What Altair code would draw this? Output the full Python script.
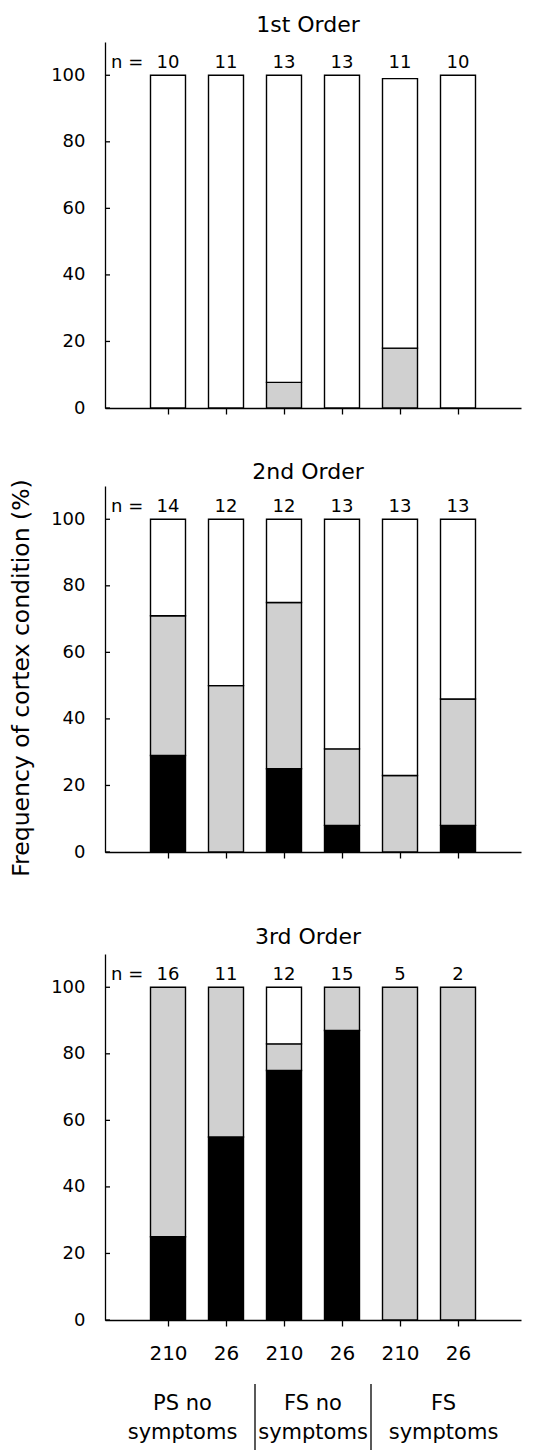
import altair as alt
import pandas as pd

# ---------------- data ----------------
ORDERS = ["1st Order", "2nd Order", "3rd Order"]
DOSES = ["210", "26", "210", "26", "210", "26"]
GROUPS = ["PS no\nsymptoms", "FS no\nsymptoms", "FS\nsymptoms"]
N_COUNTS = [
    [10, 11, 13, 13, 11, 10],
    [14, 12, 12, 13, 13, 13],
    [16, 11, 12, 15, 5, 2],
]
BLACK = [
    [0, 0, 0, 0, 0, 0],
    [29, 0, 25, 8, 0, 8],
    [25, 55, 75, 87, 0, 0],
]
GRAY = [
    [0, 0, 7.7, 0, 18, 0],
    [42, 50, 50, 23, 23, 38],
    [75, 45, 8, 13, 100, 100],
]
WHITE = [
    [100, 100, 92.3, 100, 81, 100],
    [29, 50, 25, 69, 77, 54],
    [0, 0, 17, 0, 0, 0],
]
Y_TICKS = [0, 20, 40, 60, 80, 100]
SEGMENTS = ["black", "gray", "white"]
FILLS = ["#000000", "#d0d0d0", "#ffffff"]
Y_TITLE = "Frequency of cortex condition (%)"

# ---------------- layout ----------------
W, H = 416, 366
FONT = "DejaVu Sans"
NB = len(DOSES)
XDOM = [0, NB + 1]
TITLE_OFFSETS = [-12, -22, -12]


def panel(i):
    rows = []
    for j in range(NB):
        base = 0
        for seg, vals in zip(SEGMENTS, (BLACK, GRAY, WHITE)):
            v = vals[i][j]
            if v > 0:
                rows.append({"pos": j + 1, "segment": seg, "y0": base, "y1": base + v})
                base += v
    seg_df = pd.DataFrame(rows)

    bottom = i == len(ORDERS) - 1
    if bottom:
        expr = "[" + ",".join("'%s'" % d for d in DOSES) + "][datum.value - 1]"
        x_axis = alt.Axis(values=list(range(1, NB + 1)), labels=True, labelExpr=expr,
                          labelFontSize=20, labelPadding=17, tickSize=6, grid=False,
                          title=None)
    else:
        x_axis = alt.Axis(values=list(range(1, NB + 1)), labels=False, tickSize=6,
                          grid=False, title=None)
    xenc = alt.X("pos:Q", scale=alt.Scale(domain=XDOM, nice=False, zero=False), axis=x_axis)
    yenc = alt.Y("y0:Q", scale=alt.Scale(domain=[0, 110], nice=False),
                 axis=alt.Axis(values=Y_TICKS, ticks=False, tickSize=0, labelPadding=20,
                               labelFontSize=18, grid=False, title=None))

    bars = alt.Chart(seg_df).mark_bar(width=35, stroke="black", strokeWidth=1.4).encode(
        x=xenc, y=yenc, y2="y1:Q",
        fill=alt.Fill("segment:N", scale=alt.Scale(domain=SEGMENTS, range=FILLS), legend=None),
    )

    n_df = pd.DataFrame({"pos": list(range(1, NB + 1)), "n": [str(v) for v in N_COUNTS[i]]})
    nlab = alt.Chart(n_df).mark_text(font=FONT, fontSize=18, dy=-7, baseline="alphabetic",
                                     color="black").encode(
        x="pos:Q", y=alt.datum(100), text="n:N")

    prefix = alt.Chart(pd.DataFrame({"t": ["n ="]})).mark_text(
        font=FONT, fontSize=18, align="left", baseline="alphabetic", dy=-7, color="black"
    ).encode(x=alt.value(6), y=alt.datum(100), text="t:N")

    ticks = alt.Chart(pd.DataFrame({"t": Y_TICKS})).mark_rule(color="black", strokeWidth=1.3).encode(
        y="t:Q", x=alt.value(0), x2=alt.value(5))

    spacer = alt.Chart(pd.DataFrame({"a": [0]})).mark_rule(opacity=0, strokeOpacity=0).encode(
        x=alt.value(-97), y=alt.value(0), y2=alt.value(H))

    layers = [spacer, bars, ticks, nlab, prefix]

    if i == 1:
        ytitle = alt.Chart(pd.DataFrame({"t": [Y_TITLE]})).mark_text(
            font=FONT, fontSize=23.5, angle=270, align="center", baseline="middle", color="black"
        ).encode(x=alt.value(-83), y=alt.value(H / 2 + 9), text="t:N")
        bspace = alt.Chart(pd.DataFrame({"a": [0]})).mark_rule(opacity=0, strokeOpacity=0).encode(
            x=alt.value(0), y=alt.value(H), y2=alt.value(H + 30))
        layers += [ytitle, bspace]

    if bottom:
        seps = [2 * g + 2.5 for g in range(len(GROUPS) - 1)]
        edges = [XDOM[0]] + seps + [XDOM[1]]
        centers = [(edges[k] + edges[k + 1]) / 2 for k in range(len(GROUPS))]
        sep_chart = alt.Chart(pd.DataFrame({"x": seps})).mark_rule(color="black", strokeWidth=1.3).encode(
            x="x:Q", y=alt.value(H + 64), y2=alt.value(H + 140))
        grp_chart = alt.Chart(pd.DataFrame({"x": centers, "label": GROUPS})).mark_text(
            font=FONT, fontSize=21, lineBreak="\n", lineHeight=29, baseline="alphabetic",
            align="center", color="black"
        ).encode(x="x:Q", y=alt.value(H + 90), text="label:N")
        layers += [sep_chart, grp_chart]

    return alt.layer(*layers).properties(
        width=W, height=H,
        title=alt.TitleParams(ORDERS[i], font=FONT, fontSize=22, fontWeight="normal",
                              color="black", offset=TITLE_OFFSETS[i], baseline="alphabetic",
                              anchor="middle", dx=-5),
    )


chart = alt.vconcat(panel(0), panel(1), panel(2), spacing=44).properties(
    padding={"left": 0, "top": 6, "right": 5, "bottom": 5}
).configure_view(stroke=None).configure_axis(
    domainColor="black", domainWidth=1.3, tickColor="black", tickWidth=1.3,
    labelColor="black", labelFont=FONT,
)

chart.save("out.html", embed_options={"renderer": "svg", "actions": False})
